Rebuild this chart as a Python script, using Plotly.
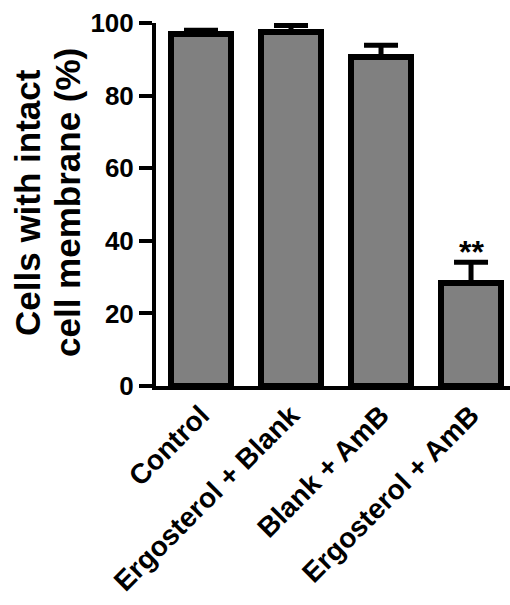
import plotly.graph_objects as go

# Membrane integrity assay: mean and SD per treatment group
groups = ["Control", "Ergosterol + Blank", "Blank + AmB", "Ergosterol + AmB"]
intact_pct = [97.1, 97.4, 90.7, 28.3]
sd_pct = [0.9, 1.9, 3.2, 5.8]
significance = ["", "", "", "**"]

y_ticks = [0, 20, 40, 60, 80, 100]
y_title_lines = ["Cells with intact", "cell membrane (%)"]

FONT = "Liberation Sans, Arial, Helvetica, sans-serif"

fig = go.Figure()
fig.add_trace(go.Bar(
    x=list(range(len(groups))),
    y=intact_pct,
    width=0.66,
    marker=dict(color="#808080", line=dict(color="black", width=6)),
    error_y=dict(
        type="data",
        array=sd_pct,
        arrayminus=[0] * len(sd_pct),
        symmetric=False,
        color="black",
        thickness=5,
        width=17,
    ),
    cliponaxis=False,
    showlegend=False,
))

# significance marks above the error bars
for i, (v, e, s) in enumerate(zip(intact_pct, sd_pct, significance)):
    if s:
        fig.add_annotation(
            x=i, y=v + e, xref="x", yref="y", text=s, showarrow=False,
            yanchor="middle", yshift=10,
            font=dict(family=FONT, size=32, color="black", weight="bold"),
        )

# two-line y-axis title, drawn as rotated annotations
plot_left, plot_width = 156, 354
for line_text, center_px in zip(y_title_lines, [27.5, 67.5]):
    fig.add_annotation(
        x=(center_px - plot_left) / plot_width, y=0.5055,
        xref="paper", yref="paper", text=line_text, showarrow=False,
        textangle=-90, xanchor="center", yanchor="middle",
        font=dict(family=FONT, size=35, color="black", weight="bold"),
    )

fig.update_layout(
    width=510, height=605,
    margin=dict(l=plot_left, r=0, t=23, b=219, pad=0, autoexpand=False),
    paper_bgcolor="white", plot_bgcolor="white",
    font=dict(family=FONT, color="black"),
    bargap=0,
)
fig.update_xaxes(
    range=[-0.5, 3.433], automargin=False,
    tickmode="array", tickvals=list(range(len(groups))), ticktext=groups,
    tickangle=-45,
    tickfont=dict(family=FONT, size=28, color="black", weight="bold"),
    ticklabelstandoff=-2,
    showline=True, linecolor="black", linewidth=3.5,
    ticks="", showgrid=False, zeroline=False,
)
fig.update_yaxes(
    range=[0, 100], automargin=False,
    tickmode="array", tickvals=y_ticks, ticktext=[str(t) for t in y_ticks],
    tickfont=dict(family=FONT, size=26, color="black", weight="bold"),
    showline=True, linecolor="black", linewidth=4,
    ticks="outside", ticklen=13, tickwidth=3.5, tickcolor="black",
    ticklabelstandoff=0,
    showgrid=False, zeroline=False,
)

fig.write_html("out.html")
